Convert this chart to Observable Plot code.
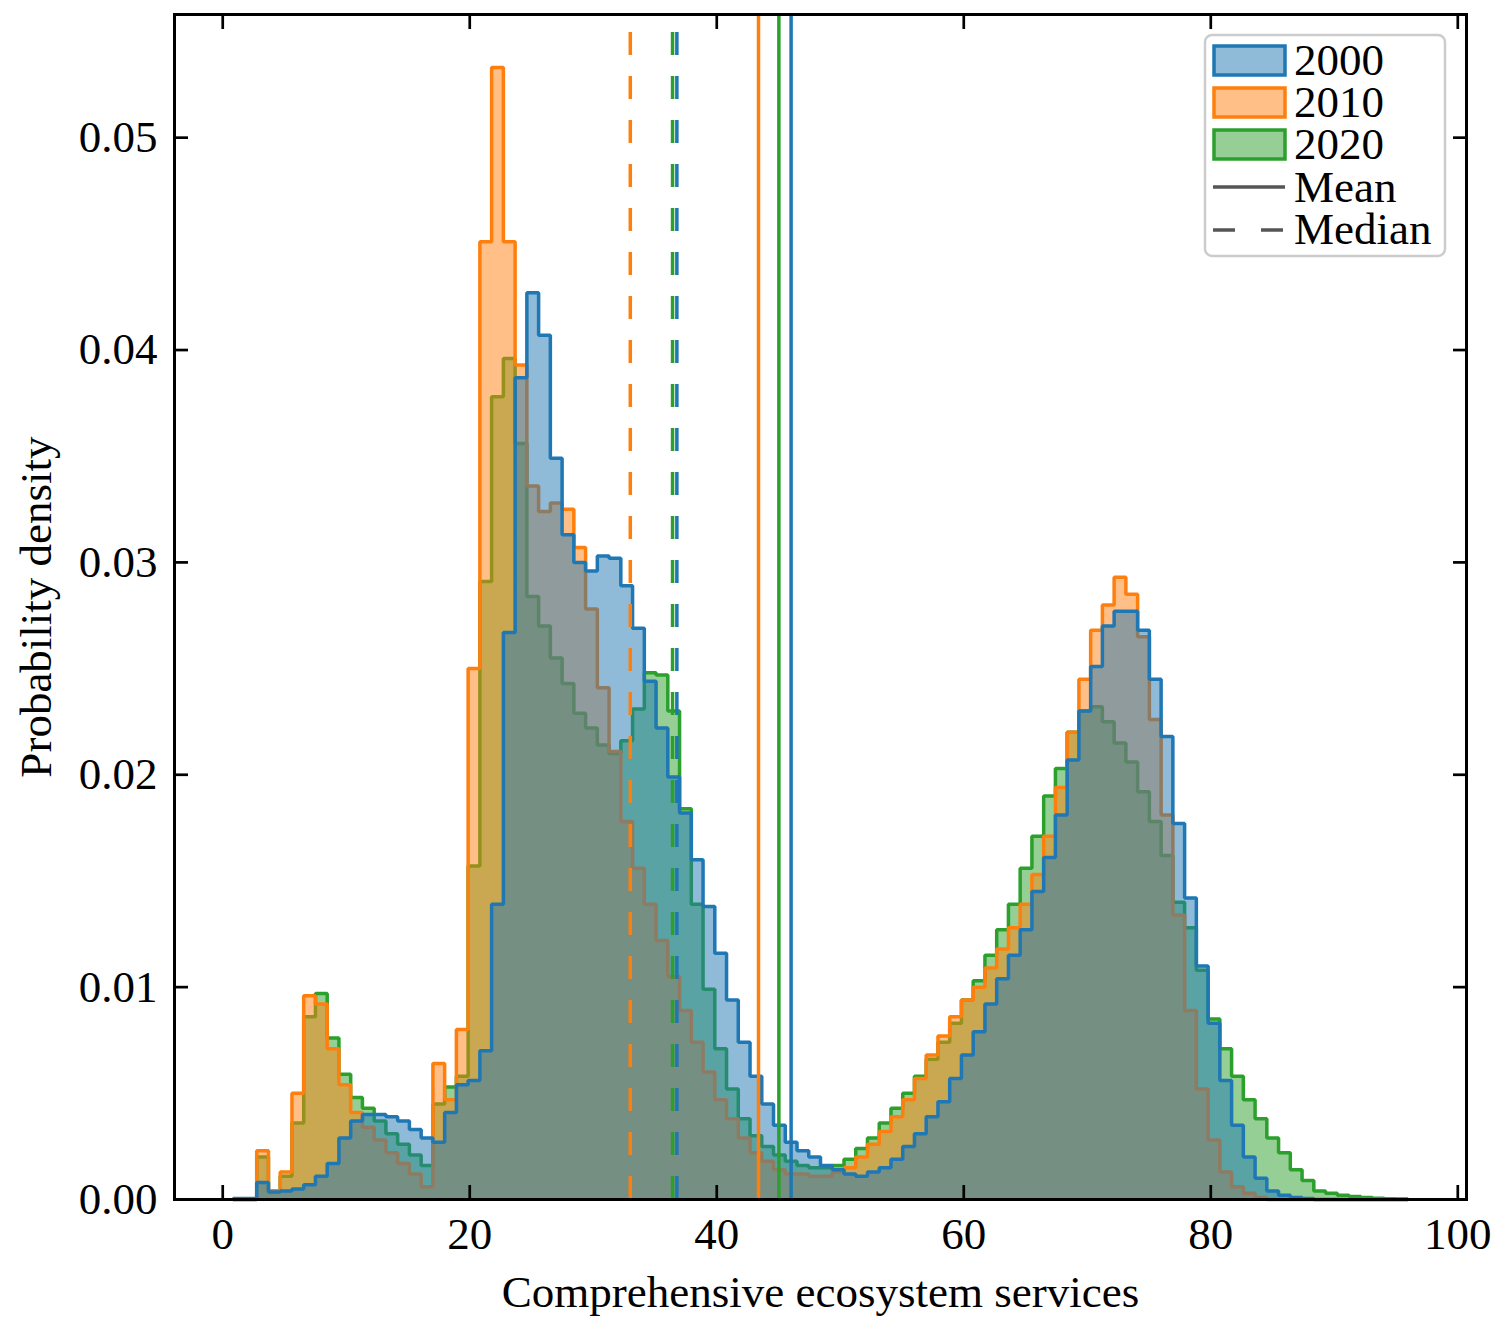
<!DOCTYPE html>
<html>
<head>
<meta charset="utf-8">
<script src="https://cdn.jsdelivr.net/npm/d3@7"></script>
<script src="https://cdn.jsdelivr.net/npm/@observablehq/plot@0.6"></script>
<style>
  body { margin: 0; background: #ffffff; }
  #chart { width: 1504px; height: 1334px; }
</style>
</head>
<body>
<div id="chart"></div>
<script>
// ---------- data ----------
const years = ["2000", "2010", "2020"];
const colors = ["#1f77b4", "#ff7f0e", "#2ca02c"];
const binStart = 0.85;
const binWidth = 0.951;

const density2000 = [
  0.00005, 0.00005,
  0.0008, 0.00035, 0.0004, 0.0005, 0.0007, 0.0011, 0.0017, 0.0029, 0.0037, 0.0040,
  0.0040, 0.0039, 0.0037, 0.0033, 0.0029, 0.0027, 0.0041, 0.0054, 0.0056, 0.0070,
  0.0139, 0.0267, 0.0387, 0.0427, 0.0407, 0.0349, 0.0313, 0.0300, 0.0296, 0.0303,
  0.0302, 0.0289, 0.0269, 0.0244, 0.0222, 0.0199, 0.0182, 0.0160, 0.0138, 0.0116,
  0.0094, 0.0074, 0.0058, 0.0045, 0.0035, 0.0027, 0.0023, 0.0020, 0.0016, 0.0014,
  0.0012, 0.0011, 0.0013, 0.0015, 0.0019, 0.0025, 0.0031, 0.0039, 0.0046, 0.0057,
  0.0068, 0.0079, 0.0092, 0.0104, 0.0115, 0.0127, 0.0145, 0.0161, 0.0181, 0.0207,
  0.0230, 0.0251, 0.0270, 0.0277, 0.0277, 0.0268, 0.0245, 0.0218, 0.0177, 0.0142,
  0.0110, 0.0083, 0.0056, 0.0035, 0.0020, 0.0010, 0.0004, 0.0002, 0.0001, 0.00005,
  0, 0, 0, 0, 0, 0, 0, 0
];
const density2010 = [
  0, 0,
  0.0023, 0.0004, 0.0013, 0.0050, 0.0096, 0.0092, 0.0071, 0.0054, 0.0041, 0.0034,
  0.0028, 0.0022, 0.0017, 0.0012, 0.0006, 0.0064, 0.0047, 0.0080, 0.0250, 0.0451,
  0.0533, 0.0451, 0.0393, 0.0336, 0.0324, 0.0328, 0.0325, 0.0307, 0.0278, 0.0241,
  0.0211, 0.0178, 0.0156, 0.0139, 0.0122, 0.0105, 0.0089, 0.0074, 0.0060, 0.0047,
  0.0038, 0.0029, 0.0022, 0.0018, 0.0014, 0.0012, 0.0012, 0.0011, 0.0011, 0.0013,
  0.0015, 0.0020, 0.0026, 0.0032, 0.0039, 0.0047, 0.0057, 0.0068, 0.0077, 0.0086,
  0.0094, 0.0100, 0.0109, 0.0118, 0.0128, 0.0139, 0.0153, 0.0171, 0.0194, 0.0220,
  0.0245, 0.0268, 0.0280, 0.0293, 0.0285, 0.0265, 0.0226, 0.0181, 0.0134, 0.0089,
  0.0052, 0.0028, 0.0013, 0.0006, 0.0003, 0.0001, 0, 0, 0, 0,
  0, 0, 0, 0, 0, 0, 0, 0
];
const density2020 = [
  0, 0,
  0.0020, 0.0004, 0.0011, 0.0036, 0.0086, 0.0097, 0.0076, 0.0059, 0.0048, 0.0043,
  0.0037, 0.0031, 0.0026, 0.0021, 0.0016, 0.0045, 0.0053, 0.0058, 0.0157, 0.0291,
  0.0378, 0.0396, 0.0356, 0.0284, 0.0270, 0.0255, 0.0243, 0.0229, 0.0222, 0.0214,
  0.0210, 0.0216, 0.0231, 0.0248, 0.0247, 0.0230, 0.0184, 0.0139, 0.0099, 0.0071,
  0.0052, 0.0038, 0.0030, 0.0025, 0.0021, 0.0018, 0.0016, 0.0015, 0.0015, 0.0016,
  0.0019, 0.0024, 0.0029, 0.0036, 0.0043, 0.0050, 0.0058, 0.0066, 0.0074, 0.0083,
  0.0094, 0.0103, 0.0115, 0.0127, 0.0139, 0.0156, 0.0171, 0.0190, 0.0203, 0.0220,
  0.0230, 0.0232, 0.0225, 0.0215, 0.0206, 0.0192, 0.0178, 0.0162, 0.0140, 0.0128,
  0.0108, 0.0085, 0.0071, 0.0058, 0.0047, 0.0038, 0.0029, 0.0022, 0.0014, 0.0009,
  0.0004, 0.0003, 0.0002, 0.00014, 0.0001, 0.00006, 0.00003, 0.00002
];

const means = [46.02, 43.38, 45.03];     // 2000, 2010, 2020
const medians = [36.77, 33.0, 36.42];    // 2000, 2010, 2020

const xTicks = [0, 20, 40, 60, 80, 100];
const yTicks = [0, 0.01, 0.02, 0.03, 0.04, 0.05];
const xLabel = "Comprehensive ecosystem services";
const yLabel = "Probability density";
const meanLabel = "Mean";
const medianLabel = "Median";

// ---------- build ----------
const densities = [density2000, density2010, density2020];
const xDomain = [-3.905, 100.705];
const yDomain = [0, 0.0558];

function stepPoints(values) {
  const end = binStart + values.length * binWidth;
  const pts = [{x: binStart, y: 0}];
  values.forEach((v, i) => pts.push({x: binStart + i * binWidth, y: v}));
  pts.push({x: end, y: values[values.length - 1]});
  pts.push({x: end, y: 0});
  return pts;
}

const FONT = "'Liberation Serif', 'Times New Roman', serif";
const FS = 45;
const LW = 3.5;

const histMarks = [];
// drawing order: 2020 (bottom), 2010, 2000 (top)
[2, 1, 0].forEach(s => {
  const pts = stepPoints(densities[s]);
  histMarks.push(Plot.areaY(pts, {x: "x", y: "y", curve: "step-after", fill: colors[s], fillOpacity: 0.5}));
  histMarks.push(Plot.lineY(pts, {x: "x", y: "y", curve: "step-after", stroke: colors[s], strokeWidth: LW, strokeLinejoin: "miter"}));
});

const lineMarks = [];
[1, 2, 0].forEach(s => {
  lineMarks.push(Plot.ruleX([means[s]], {x: d => d, y1: yDomain[0], y2: yDomain[1], stroke: colors[s], strokeWidth: LW}));
});
[1, 2, 0].forEach(s => {
  lineMarks.push(Plot.ruleX([medians[s]], {x: d => d, y1: yDomain[0], y2: yDomain[1], stroke: colors[s], strokeWidth: LW, strokeDasharray: "23,21"}));
});

const plot = Plot.plot({
  width: 1504,
  height: 1334,
  marginLeft: 174,
  marginRight: 38,
  marginTop: 14,
  marginBottom: 135,
  style: {fontFamily: FONT, fontSize: FS + "px", background: "#ffffff", color: "#000000"},
  x: {domain: xDomain},
  y: {domain: yDomain},
  marks: [
    ...histMarks,
    ...lineMarks,
    Plot.frame({stroke: "#000", strokeWidth: 3}),
    Plot.axisX({ticks: xTicks, tickSize: -14, tickPadding: 32, strokeWidth: 2.7, label: null, fontSize: FS}),
    Plot.axisX({anchor: "top", ticks: xTicks, tickSize: -14, strokeWidth: 2.7, tickFormat: () => "", label: null}),
    Plot.axisY({ticks: yTicks, tickSize: -14, tickPadding: 31, strokeWidth: 2.7, tickFormat: d3.format(".2f"), label: null, fontSize: FS}),
    Plot.axisY({anchor: "right", ticks: yTicks, tickSize: -14, strokeWidth: 2.7, tickFormat: () => "", label: null}),
    Plot.text([xLabel], {text: d => d, frameAnchor: "bottom", dy: 107, lineAnchor: "bottom", textAnchor: "middle", fontSize: FS}),
    Plot.text([yLabel], {text: d => d, frameAnchor: "left", dx: -124, rotate: -90, lineAnchor: "bottom", textAnchor: "middle", fontSize: FS})
  ]
});

document.getElementById("chart").appendChild(plot);

// ---------- legend (inside the axes, upper right) ----------
const svg = d3.select(plot);
const lg = svg.append("g")
  .attr("font-family", FONT).attr("font-size", FS)
  .attr("fill", "#000").attr("text-anchor", "start");
lg.append("rect")
  .attr("x", 1205).attr("y", 35).attr("width", 240).attr("height", 221).attr("rx", 7)
  .attr("fill", "#ffffff").attr("fill-opacity", 0.8)
  .attr("stroke", "#cccccc").attr("stroke-width", 2.5);
const rowTops = [46, 88, 130];
years.forEach((yr, i) => {
  lg.append("rect")
    .attr("x", 1214).attr("y", rowTops[i]).attr("width", 71).attr("height", 29)
    .attr("fill", colors[i]).attr("fill-opacity", 0.5)
    .attr("stroke", colors[i]).attr("stroke-width", LW);
  lg.append("text").attr("x", 1294).attr("y", rowTops[i] + 29).attr("text-anchor", "start").text(yr);
});
lg.append("line").attr("x1", 1213).attr("x2", 1285).attr("y1", 187).attr("y2", 187)
  .attr("stroke", "#555555").attr("stroke-width", LW);
lg.append("text").attr("x", 1294).attr("y", 202).attr("text-anchor", "start").text(meanLabel);
lg.append("line").attr("x1", 1213).attr("x2", 1285).attr("y1", 230).attr("y2", 230)
  .attr("stroke", "#555555").attr("stroke-width", LW).attr("stroke-dasharray", "22,26");
lg.append("text").attr("x", 1294).attr("y", 244).attr("text-anchor", "start").text(medianLabel);
</script>
</body>
</html>
